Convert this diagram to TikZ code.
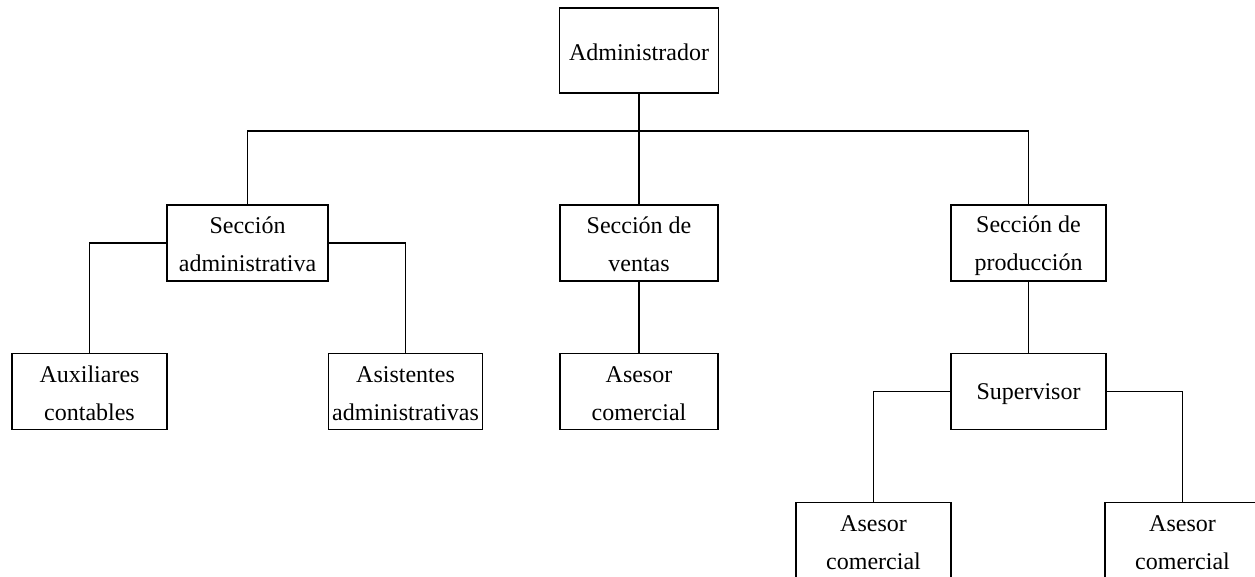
\documentclass[tikz,border=0pt]{standalone}
\usepackage{fontspec}
\setmainfont{Liberation Serif}
% fixed line height and depth so every label sits at the same level
\newcommand\ls{\rule[-2pt]{0pt}{24pt}}
\begin{document}
\begin{tikzpicture}[x=1pt,y=-1pt,
  unit/.style={draw,line width=1.7pt,rectangle,inner sep=0pt,
    minimum width=156pt,minimum height=76pt,align=center,
    font=\fontsize{24}{38}\selectfont},
  link/.style={line width=1.7pt}]
\useasboundingbox (0,0) rectangle (1255,577);
\clip (0,0) rectangle (1255,577);

% top level
\node[unit,minimum width=159pt,minimum height=85pt] (adm) at (639,50.5) {\ls Administrador};

% sections
\node[unit,minimum width=161pt] (sa) at (247.5,243) {\ls Sección\\\ls administrativa};
\node[unit,minimum width=158pt] (sv) at (639,243) {\ls Sección de\\\ls ventas};
\node[unit,minimum width=155pt] (sp) at (1028.5,243) {\ls Sección de\\\ls producción};

% staff under each section
\node[unit,minimum width=155pt] (aux) at (89.5,391.5) {\ls Auxiliares\\\ls contables};
\node[unit,minimum width=154pt] (asi) at (405.5,391.5) {\ls Asistentes\\\ls administrativas};
\node[unit,minimum width=158pt] (ac) at (639,391.5) {\ls Asesor\\\ls comercial};
\node[unit,minimum width=155pt] (sup) at (1028.5,391.5) {\ls Supervisor};
\node[unit,minimum width=155pt] (ac1) at (873.5,540.5) {\ls Asesor\\\ls comercial};
\node[unit,minimum width=155pt] (ac2) at (1182.5,540.5) {\ls Asesor\\\ls comercial};

% connectors
\coordinate (bus) at (0,131);
\draw[link] (adm.south) -- (sv.north);
\draw[link] (sa.north) -- (sa.north |- bus) -- (sp.north |- bus) -- (sp.north);
\draw[link] (sa.west) -| (aux.north);
\draw[link] (sa.east) -| (asi.north);
\draw[link] (sv.south) -- (ac.north);
\draw[link] (sp.south) -- (sup.north);
\draw[link] (sup.west) -| (ac1.north);
\draw[link] (sup.east) -| (ac2.north);
\end{tikzpicture}
\end{document}
